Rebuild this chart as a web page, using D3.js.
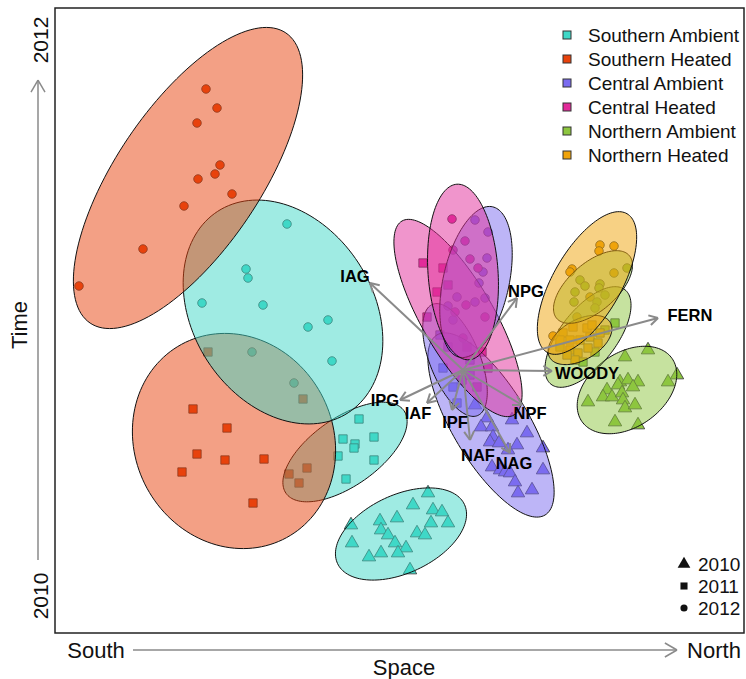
<!DOCTYPE html>
<html>
<head>
<meta charset="utf-8">
<script src="https://cdn.jsdelivr.net/npm/d3@7"></script>
<style>
  body { margin: 0; background: #fff; }
  text { font-family: "Liberation Sans", Arial, sans-serif; }
</style>
</head>
<body>
<svg id="chart" width="746" height="679"></svg>
<script>
// NMDS site scores (axis 1 = space, axis 2 = time)
const sa2010 = [[0.28,-1.73],[0.13,-1.85],[0.33,-1.90],[-0.03,-1.98],[-0.20,-2.01],[0.42,-1.92],[-0.49,-2.05],[-0.48,-2.23],
  [-0.19,-2.10],[-0.12,-2.15],[-0.05,-2.23],[0.06,-2.28],[-0.02,-2.33],[-0.19,-2.33],[-0.31,-2.37],[0.17,-2.13],
  [0.25,-2.15],[0.31,-2.03],[0.48,-2.03],[0.10,-2.50]];
const ca2010 = [[0.87,-0.98],[0.81,-1.07],[0.92,-1.07],[0.93,-1.17],[0.90,-1.22],[0.99,-1.23],[1.27,-1.13],[1.08,-1.30],
  [1.17,-1.25],[0.92,-1.47],[1.00,-1.50],[1.05,-1.52],[1.10,-1.53],[1.15,-1.62],[1.18,-1.73],[1.32,-1.70],
  [1.43,-1.28],[1.43,-1.50],[1.12,-1.00],[0.75,-0.85]];
const na2010 = [[2.25,-0.37],[2.48,-0.30],[2.77,-0.55],[2.68,-0.62],[2.20,-0.62],[2.28,-0.60],[2.38,-0.62],[2.33,-0.67],
  [2.07,-0.70],[2.18,-0.65],[2.03,-0.77],[2.12,-0.77],[2.22,-0.73],[2.23,-0.80],[2.25,-0.88],[2.35,-0.85],
  [1.88,-0.82],[2.15,-1.02],[2.38,-1.05]];
const sa2011 = [[-0.41,-0.99],[-0.57,-1.19],[-0.45,-1.24],[-0.46,-1.28],[-0.26,-1.17],[-0.62,-1.36],[-0.26,-1.40],[-0.54,-1.59]];
const sh2011 = [[-2.07,-0.89],[-1.73,-1.08],[-2.03,-1.34],[-1.75,-1.40],[-1.36,-1.39],[-2.18,-1.52],[-1.47,-1.83],
  [-1.92,-0.32],[-0.97,-0.79],[-1.11,-1.54],[-0.93,-1.48],[-1.01,-1.63]];
const ca2011 = [[0.43,-0.48],[0.48,-0.27],[0.53,-0.67],[0.57,-0.83],[0.62,-0.60],[0.70,-0.55],[0.40,-0.15],[0.70,-0.40]];
const ch2011 = [[0.23,0.57],[0.43,0.52],[0.48,0.35],[0.37,0.28],[0.27,0.03],[0.67,-0.27],[0.88,-0.48],[0.77,-0.67],[0.82,-0.32]];
const na2011 = [[2.15,-0.03],[1.83,-0.42],[2.05,-0.10],[1.60,-0.27],[1.95,-0.32]];
const nh2011 = [[1.63,-0.13],[1.73,-0.07],[1.87,-0.08],[1.92,-0.05],[1.60,-0.20],[1.70,-0.20],[1.80,-0.20],[1.90,-0.17],
  [2.00,-0.13],[1.70,-0.30],[1.78,-0.33],[1.88,-0.28],[1.98,-0.23],[1.75,-0.40],[1.67,-0.35]];
const sa2012 = [[-1.13,0.96],[-1.54,0.51],[-1.52,0.42],[-1.98,0.17],[-1.37,0.15],[-0.92,-0.07],[-0.72,0.00],[-0.68,-0.41],
  [-1.48,-0.32],[-1.06,-0.63]];
const sh2012 = [[-1.94,2.31],[-1.83,2.12],[-2.03,1.97],[-1.80,1.55],[-1.85,1.46],[-2.02,1.41],[-1.68,1.26],[-2.16,1.14],
  [-2.57,0.71],[-3.21,0.34]];
const ca2012 = [[0.75,1.00],[0.88,0.88],[0.87,0.62],[0.83,0.48],[0.79,0.37],[0.85,0.22],[0.57,0.23],[0.75,0.18],[0.48,0.14],[0.53,0.00]];
const ch2012 = [[0.52,1.01],[0.53,0.70],[0.65,0.79],[0.70,0.61],[0.78,0.52],[0.66,0.15],[0.55,0.08],[0.85,0.03],[0.63,-0.18]];
const na2012 = [[1.80,0.40],[1.85,0.34],[2.00,0.36],[1.99,0.32],[1.75,0.28],[2.05,0.25],[1.74,0.18],[1.97,0.18],[1.95,0.12],[2.27,0.52]];
const nh2012 = [[2.00,0.75],[2.14,0.74],[1.99,0.69],[1.72,0.51],[1.70,0.48],[1.53,-0.16],[2.14,0.47],[1.90,0.23],[1.77,0.03]];

// Dispersion ellipses: centre x, centre y, semi-axis a, semi-axis b, rotation (degrees)
const ellSA2010 = [0.01, -2.14, 0.70, 0.39, 25];
const ellCA2010 = [0.91, -1.05, 1.05, 0.38, -59];
const ellNA2010 = [2.27, -0.70, 0.55, 0.37, 35];
const ellSA2011 = [-0.55, -1.32, 0.72, 0.34, 35];
const ellSH2011 = [-1.66, -1.21, 1.10, 0.99, -61.5];
const ellCA2011 = [0.55, -0.40, 0.60, 0.25, -68];
const ellCH2011 = [0.58, 0.02, 1.12, 0.36, -60];
const ellNA2011 = [1.88, -0.17, 0.60, 0.28, 52];
const ellNH2011 = [1.80, -0.20, 0.35, 0.20, 30];
const ellSA2012 = [-1.17, 0.08, 1.20, 0.90, -57];
const ellSH2012 = [-2.12, 1.42, 1.75, 0.72, 56];
const ellCA2012 = [0.76, 0.38, 0.77, 0.33, 77.6];
const ellCH2012 = [0.63, 0.48, 0.88, 0.35, 94];
const ellNA2012 = [1.93, 0.33, 0.48, 0.24, 41];
const ellNH2012 = [1.87, 0.37, 0.80, 0.34, 60];

// Fitted vectors
const envVars = ["IAG", "NPG", "FERN", "WOODY", "NPF", "NAG", "NAF", "IPF", "IAF", "IPG"];
const envTipX = [-0.30, 1.17, 2.58, 1.52, 1.22, 1.10, 0.70, 0.52, 0.27, 0.00];
const envTipY = [0.37, 0.22, 0.02, -0.51, -0.85, -1.33, -1.20, -0.90, -0.83, -0.80];
const envLabelX = [-0.45, 1.26, 2.90, 1.87, 1.30, 1.14, 0.78, 0.55, 0.18, -0.15];
const envLabelY = [0.44, 0.29, 0.05, -0.53, -0.93, -1.43, -1.35, -1.02, -0.93, -0.80];
const envOrigin = [0.63, -0.50];

const treatments = ["Southern Ambient", "Southern Heated", "Central Ambient", "Central Heated", "Northern Ambient", "Northern Heated"];
const treatmentColours = ["#3fd8c7", "#e8420c", "#7b6cf0", "#e22b9a", "#8dc63f", "#f0a30a"];
const years = ["2010", "2011", "2012"];

// group table: treatment index, year, points, ellipse (in drawing order)
const groups = [
  {t: 0, year: "2010", pts: sa2010, ell: ellSA2010},
  {t: 2, year: "2010", pts: ca2010, ell: ellCA2010},
  {t: 4, year: "2010", pts: na2010, ell: ellNA2010},
  {t: 0, year: "2011", pts: sa2011, ell: ellSA2011},
  {t: 1, year: "2011", pts: sh2011, ell: ellSH2011},
  {t: 2, year: "2011", pts: ca2011, ell: ellCA2011},
  {t: 3, year: "2011", pts: ch2011, ell: ellCH2011},
  {t: 4, year: "2011", pts: na2011, ell: ellNA2011},
  {t: 5, year: "2011", pts: nh2011, ell: ellNH2011},
  {t: 0, year: "2012", pts: sa2012, ell: ellSA2012},
  {t: 1, year: "2012", pts: sh2012, ell: ellSH2012},
  {t: 2, year: "2012", pts: ca2012, ell: ellCA2012},
  {t: 3, year: "2012", pts: ch2012, ell: ellCH2012},
  {t: 4, year: "2012", pts: na2012, ell: ellNA2012},
  {t: 5, year: "2012", pts: nh2012, ell: ellNH2012}
];

const margin = {top: 8, right: 2, bottom: 46, left: 55};
const width = 746, height = 679;

const x = d3.scaleLinear().domain([-3.45, 3.44]).range([margin.left, width - margin.right]);
const y = d3.scaleLinear().domain([-3.13, 3.12]).range([height - margin.bottom, margin.top]);

const shapeOf = {"2010": d3.symbolTriangle, "2011": d3.symbolSquare, "2012": d3.symbolCircle};
const sizeOf = {"2010": 78, "2011": 70, "2012": 58};

const svg = d3.select("#chart");

svg.append("clipPath").attr("id", "plotClip")
  .append("rect")
  .attr("x", margin.left).attr("y", margin.top)
  .attr("width", width - margin.left - margin.right)
  .attr("height", height - margin.top - margin.bottom);

const plot = svg.append("g").attr("clip-path", "url(#plotClip)");

// points first, ellipses laid over them
groups.forEach(g => {
  plot.append("g").selectAll("path")
    .data(g.pts)
    .enter().append("path")
    .attr("d", d3.symbol().type(shapeOf[g.year]).size(sizeOf[g.year]))
    .attr("transform", d => "translate(" + x(d[0]) + "," + y(d[1]) + ")")
    .attr("fill", treatmentColours[g.t])
    .attr("stroke", "#333")
    .attr("stroke-width", 0.8);
});

const ellipsePath = e => {
  const th = e[4] * Math.PI / 180;
  const pts = d3.range(140).map(i => {
    const t = i / 140 * 2 * Math.PI;
    const ex = e[2] * Math.cos(t), ey = e[3] * Math.sin(t);
    return [x(e[0] + ex * Math.cos(th) - ey * Math.sin(th)),
            y(e[1] + ex * Math.sin(th) + ey * Math.cos(th))];
  });
  return d3.line().curve(d3.curveLinearClosed)(pts);
};

groups.forEach(g => {
  plot.append("path")
    .attr("d", ellipsePath(g.ell))
    .attr("fill", treatmentColours[g.t])
    .attr("fill-opacity", 0.5)
    .attr("stroke", "#111")
    .attr("stroke-width", 1);
});

// vectors
const arrowGrey = "#8a8a8a";
const drawArrow = (sel, x0, y0, x1, y1, head, colour, w) => {
  const ang = Math.atan2(y1 - y0, x1 - x0);
  sel.append("line").attr("x1", x0).attr("y1", y0).attr("x2", x1).attr("y2", y1)
    .attr("stroke", colour).attr("stroke-width", w);
  [-1, 1].forEach(s => {
    const a = ang + Math.PI + s * Math.PI / 6;
    sel.append("line").attr("x1", x1).attr("y1", y1)
      .attr("x2", x1 + head * Math.cos(a)).attr("y2", y1 + head * Math.sin(a))
      .attr("stroke", colour).attr("stroke-width", w);
  });
};

const vec = svg.append("g");
envVars.forEach((v, i) => {
  drawArrow(vec, x(envOrigin[0]), y(envOrigin[1]), x(envTipX[i]), y(envTipY[i]), 10, arrowGrey, 2);
});
envVars.forEach((v, i) => {
  vec.append("text")
    .attr("x", x(envLabelX[i])).attr("y", y(envLabelY[i]))
    .attr("text-anchor", "middle").attr("dominant-baseline", "central")
    .attr("font-size", 16.5).attr("font-weight", "bold")
    .attr("fill", "#000")
    .text(v);
});

// frame
svg.append("rect")
  .attr("x", margin.left).attr("y", margin.top)
  .attr("width", width - margin.left - margin.right)
  .attr("height", height - margin.top - margin.bottom)
  .attr("fill", "none").attr("stroke", "#222").attr("stroke-width", 1.5);

// treatment legend
const legend = svg.append("g");
treatments.forEach((t, i) => {
  const ly = 35 + i * 24;
  legend.append("rect")
    .attr("x", 563).attr("y", ly - 4).attr("width", 8).attr("height", 8)
    .attr("fill", treatmentColours[i]).attr("stroke", "#333").attr("stroke-width", 1);
  legend.append("text")
    .attr("x", 588).attr("y", ly).attr("dominant-baseline", "central")
    .attr("font-size", 19).attr("fill", "#111").text(t);
});

// year legend
years.forEach((yr, i) => {
  const ly = 564 + i * 22;
  legend.append("path")
    .attr("d", d3.symbol().type(shapeOf[yr]).size([70, 50, 40][i]))
    .attr("transform", "translate(684," + ly + ")")
    .attr("fill", "#111");
  legend.append("text")
    .attr("x", 698).attr("y", ly).attr("dominant-baseline", "central")
    .attr("font-size", 19).attr("fill", "#111").text(yr);
});

// axis annotations: time (vertical) and space (horizontal)
drawArrow(svg, 38, 560, 38, 80, 14, arrowGrey, 1.5);
svg.append("text")
  .attr("transform", "translate(40,40) rotate(-90)")
  .attr("text-anchor", "middle").attr("dominant-baseline", "central")
  .attr("font-size", 21).attr("fill", "#111").text("2012");
svg.append("text")
  .attr("transform", "translate(40,596) rotate(-90)")
  .attr("text-anchor", "middle").attr("dominant-baseline", "central")
  .attr("font-size", 21).attr("fill", "#111").text("2010");
svg.append("text")
  .attr("transform", "translate(19,325) rotate(-90)")
  .attr("text-anchor", "middle").attr("dominant-baseline", "central")
  .attr("font-size", 22).attr("fill", "#111").text("Time");

drawArrow(svg, 133, 650, 677, 650, 14, arrowGrey, 1.5);
svg.append("text")
  .attr("x", 96).attr("y", 650)
  .attr("text-anchor", "middle").attr("dominant-baseline", "central")
  .attr("font-size", 22).attr("fill", "#111").text("South");
svg.append("text")
  .attr("x", 714).attr("y", 650)
  .attr("text-anchor", "middle").attr("dominant-baseline", "central")
  .attr("font-size", 22).attr("fill", "#111").text("North");
svg.append("text")
  .attr("x", 404).attr("y", 667)
  .attr("text-anchor", "middle").attr("dominant-baseline", "central")
  .attr("font-size", 22).attr("fill", "#111").text("Space");
</script>
</body>
</html>
